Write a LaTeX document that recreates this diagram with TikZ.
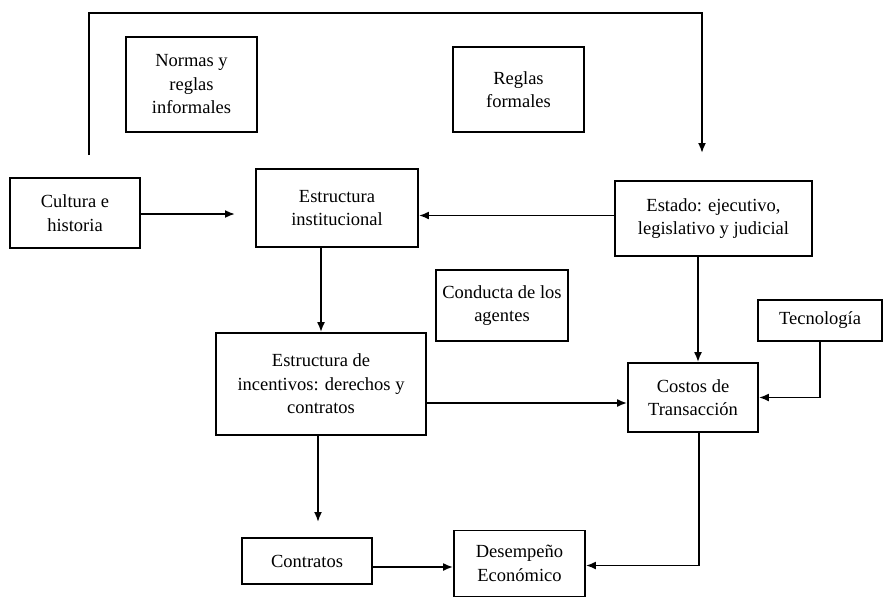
\documentclass[tikz,border=0pt]{standalone}
\usepackage{fontspec}
\setmainfont{Liberation Serif}
\newfontfamily\serfont{Liberation Serif}
\usetikzlibrary{arrows.meta,calc}
\begin{document}
\begin{tikzpicture}[x=1pt,y=-1pt,
  box/.style={draw, line width=1.8pt, align=center, inner sep=2pt,
    font=\serfont\fontsize{18.5}{23.5}\selectfont},
  arr/.style={line width=1.8pt, -{Latex[length=10pt,width=8pt]}}]
\useasboundingbox (0,0) rectangle (883,598);
\fill[white] (0,0) rectangle (883,598);
\node[box, minimum width=131pt, minimum height=95pt] (normas) at (191.5,84.5) {Normas y\\reglas\\informales};
\node[box, minimum width=131pt, minimum height=85pt] (reglas) at (518.5,89.5) {Reglas\\formales};
\node[box, minimum width=130pt, minimum height=70pt] (cultura) at (75,213) {Cultura e\\historia};
\node[box, minimum width=162pt, minimum height=78pt] (inst) at (337,208) {Estructura\\institucional};
\node[box, minimum width=197pt, minimum height=75pt] (estado) at (713.5,218.5) {Estado: ejecutivo,\\legislativo y judicial};
\node[box, minimum width=132pt, minimum height=71pt] (conducta) at (502,305.5) {Conducta de los\\agentes};
\node[box, minimum width=124pt, minimum height=41pt] (tecno) at (820,320.5) {Tecnología};
\node[box, minimum width=210pt, minimum height=102pt] (incent) at (321,384) {Estructura de\\incentivos: derechos y\\contratos};
\node[box, minimum width=130pt, minimum height=69pt] (costos) at (693,397.5) {Costos de\\Transacción};
\node[box, minimum width=130pt, minimum height=46pt] (contratos) at (307,561) {Contratos};
\node[box, minimum width=131pt, minimum height=66pt] (desemp) at (519.5,563.5) {Desempeño\\Económico};
% top loop
\coordinate (l0) at (89,155);
\coordinate (l1) at (89,13);
\coordinate (l2) at (702,13);
\coordinate (l3) at (702,153);
\draw[arr] (l0) -- (l1) -- (l2) -- (l3);
% cultura arrow
\coordinate (ctip) at (235,214);
\draw[arr] (cultura.east |- ctip) -- (ctip);
% estado -> inst
\draw[arr] ($(estado.west)+(0,-3)$) -- ($(inst.east |- estado.west)+(0,-3)$);
% inst -> incentivos
\draw[arr] (incent.north |- inst.south) -- (incent.north);
% estado -> costos
\draw[arr] ($(costos.north |- estado.south)+(5,0)$) -- ($(costos.north)+(5,0)$);
% incentivos -> costos
\draw[arr] ($(incent.east)+(0,19)$) -- ($(costos.west |- incent.east)+(0,19)$);
% tecnologia -> costos
\draw[arr] (tecno.south) |- (costos.east);
% incentivos -> contratos
\coordinate (ktip) at (318,522);
\draw[arr] (incent.south -| ktip) -- (ktip);
% contratos -> desempeno
\draw[arr] ($(contratos.east)+(0,6)$) -- ($(desemp.west |- contratos.east)+(0,6)$);
% costos -> desempeno
\draw[arr] ($(costos.south)+(6,0)$) |- ($(desemp.east)+(0,2)$);
\end{tikzpicture}
\end{document}
